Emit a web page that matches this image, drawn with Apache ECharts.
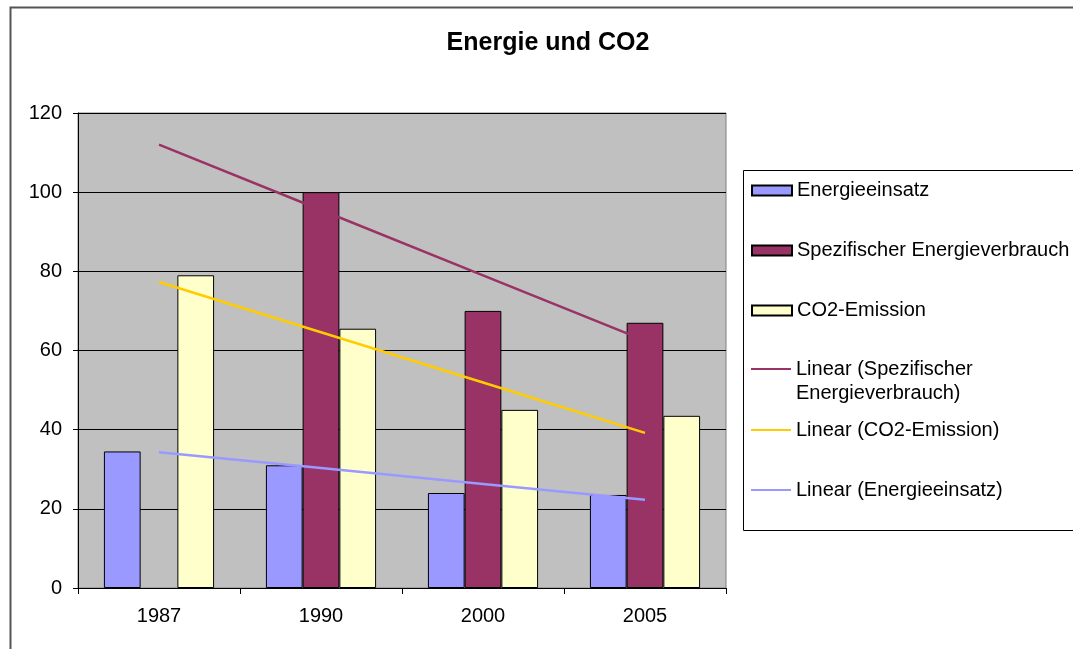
<!DOCTYPE html>
<html>
<head>
<meta charset="utf-8">
<script src="https://cdn.jsdelivr.net/npm/echarts@6/dist/echarts.min.js"></script>
<style>
html,body{margin:0;padding:0;background:#fff;}
#c{width:1073px;height:649px;}
</style>
</head>
<body>
<div id="c"></div>
<script>
// ---- data ----
var titleText = 'Energie und CO2';
var categories = ['1987', '1990', '2000', '2005'];
var energieeinsatz = [34.5, 31, 24, 23.5];
var spezVerbrauch = [null, 100, 70, 67];
var co2Emission = [79, 65.5, 45, 43.5];
// trend lines
var trendSpez = [112, 95.5, 79, 62.5];
var trendCO2 = [77.3, 64.6, 51.9, 39.2];
var trendEnergie = [34.3, 30.3, 26.3, 22.3];
var yTicks = {min: 0, max: 120, interval: 20};

var names = {
  e: 'Energieeinsatz',
  s: 'Spezifischer Energieverbrauch',
  c: 'CO2-Emission',
  ls: 'Linear (Spezifischer\nEnergieverbrauch)',
  lc: 'Linear (CO2-Emission)',
  le: 'Linear (Energieeinsatz)'
};

var FONT = "'Liberation Sans', Arial, sans-serif";
var chart = echarts.init(document.getElementById('c'), null, {renderer: 'canvas'});

var legendText = {color: '#000', fontSize: 20, fontFamily: FONT, lineHeight: 24};

chart.setOption({
  backgroundColor: '#fff',
  animation: false,
  title: {
    text: titleText,
    left: 548,
    top: 31,
    padding: 0,
    textAlign: 'center',
    textStyle: {fontSize: 25, fontWeight: 'bold', color: '#000', fontFamily: FONT}
  },
  graphic: [
    {type: 'rect', left: 8, top: 5, shape: {width: 1200, height: 800},
     style: {fill: 'none', stroke: '#555', lineWidth: 2}, z: -10},
    {type: 'rect', left: 743, top: 170, shape: {width: 400, height: 360},
     style: {fill: '#fff', stroke: '#000', lineWidth: 1}, z: -5}
  ],
  legend: [
    {
      orient: 'vertical', left: 751, top: 178.5, padding: 0, itemGap: 36,
      itemWidth: 40, itemHeight: 10, icon: 'rect',
      textStyle: legendText,
      data: [names.e, names.s, names.c]
    },
    {
      orient: 'vertical', left: 751, top: 333, padding: 0, itemGap: 36,
      itemWidth: 40, itemHeight: 2, icon: 'rect',
      textStyle: legendText,
      formatter: function (n) { return '\n' + n; },
      data: [names.ls]
    },
    {
      orient: 'vertical', left: 751, top: 418, padding: 0, itemGap: 36,
      itemWidth: 40, itemHeight: 2, icon: 'rect',
      textStyle: legendText,
      data: [names.lc, names.le]
    }
  ],
  grid: {
    left: 78, right: 347, top: 113, bottom: 61,
    show: true, backgroundColor: '#C0C0C0', borderColor: '#808080', borderWidth: 1
  },
  xAxis: {
    type: 'category',
    data: categories,
    boundaryGap: true,
    axisLine: {show: true, lineStyle: {color: '#000', width: 1}},
    axisTick: {show: true, alignWithLabel: false, length: 6, lineStyle: {color: '#000'}},
    axisLabel: {color: '#000', fontSize: 20, fontFamily: FONT, margin: 18},
    splitLine: {show: false}
  },
  yAxis: {
    type: 'value',
    min: yTicks.min, max: yTicks.max, interval: yTicks.interval,
    axisLine: {show: true, lineStyle: {color: '#000', width: 1}},
    axisTick: {show: true, length: 5, lineStyle: {color: '#000'}},
    axisLabel: {color: '#000', fontSize: 20, fontFamily: FONT, margin: 16},
    splitLine: {show: true, lineStyle: {color: '#000', width: 1}}
  },
  series: [
    {name: names.e, type: 'bar', data: energieeinsatz, barGap: '0%', barCategoryGap: '32%',
     itemStyle: {color: '#9999FF', borderColor: '#000', borderWidth: 1}},
    {name: names.s, type: 'bar', data: spezVerbrauch, barGap: '0%', barCategoryGap: '32%',
     itemStyle: {color: '#993366', borderColor: '#000', borderWidth: 1}},
    {name: names.c, type: 'bar', data: co2Emission, barGap: '0%', barCategoryGap: '32%',
     itemStyle: {color: '#FFFFCC', borderColor: '#000', borderWidth: 1}},
    {name: names.ls, type: 'line', data: trendSpez, symbol: 'none', z: 5,
     lineStyle: {color: '#993366', width: 2.5}, itemStyle: {color: '#993366'}},
    {name: names.lc, type: 'line', data: trendCO2, symbol: 'none', z: 5,
     lineStyle: {color: '#FFCC00', width: 2.5}, itemStyle: {color: '#FFCC00'}},
    {name: names.le, type: 'line', data: trendEnergie, symbol: 'none', z: 5,
     lineStyle: {color: '#9999FF', width: 2.5}, itemStyle: {color: '#9999FF'}}
  ]
});
</script>
</body>
</html>
